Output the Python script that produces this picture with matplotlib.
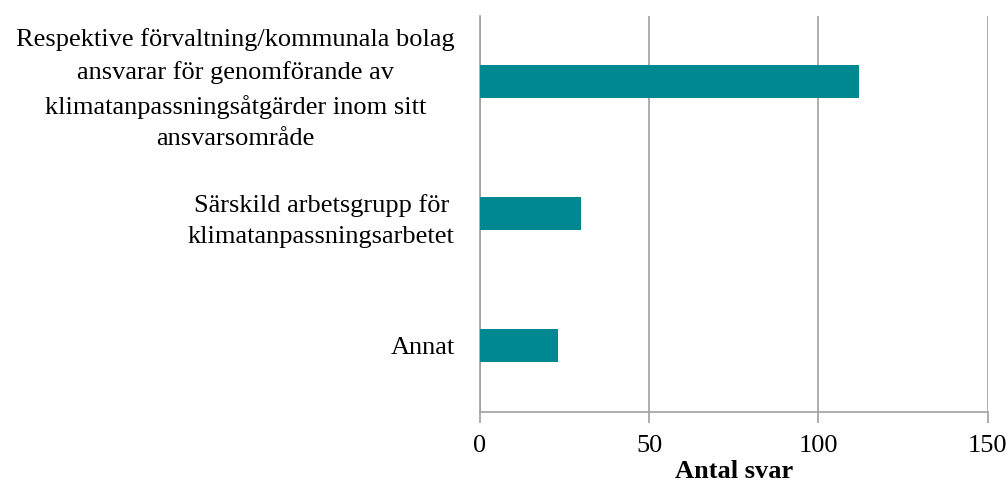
import matplotlib
matplotlib.use('Agg')
import matplotlib.pyplot as plt

plt.rcParams['font.family'] = ['Liberation Serif', 'DejaVu Serif']
plt.rcParams['font.size'] = 19

categories = ["Respektive förvaltning/kommunala bolag\nansvarar för genomförande av\nklimatanpassningsåtgärder inom sitt\nansvarsområde",
              "Särskild arbetsgrupp för\nklimatanpassningsarbetet",
              "Annat"]
values = [112, 30, 23]
xticks = [0, 50, 100, 150]

fig = plt.figure(figsize=(10.08, 4.84), dpi=100)
ax = fig.add_axes([0.476, 0.149, 0.504, 0.818])

ypos = [2, 1, 0]
ax.barh(ypos, values, height=0.25, color='#008891', zorder=3)

ax.set_xlim(0, 150)
ax.set_ylim(-0.5, 2.5)
ax.set_xticks(xticks)
ax.set_xticklabels([str(x) for x in xticks])
ax.set_yticks(ypos)
ax.set_yticklabels(categories, multialignment='center', linespacing=1.55)

ax.grid(axis='x', color='#A0A0A0', linewidth=1.2, zorder=0)
for s in ['top', 'right']:
    ax.spines[s].set_visible(False)
for s in ['left', 'bottom']:
    ax.spines[s].set_color('#A0A0A0')
    ax.spines[s].set_linewidth(1.2)
ax.tick_params(axis='y', length=0, pad=18)
ax.tick_params(axis='x', length=8, color='#A0A0A0', width=1.2, pad=9)

ax.set_xlabel('Antal svar', fontweight='bold', labelpad=2)

fig.savefig('out.png', dpi=100)
